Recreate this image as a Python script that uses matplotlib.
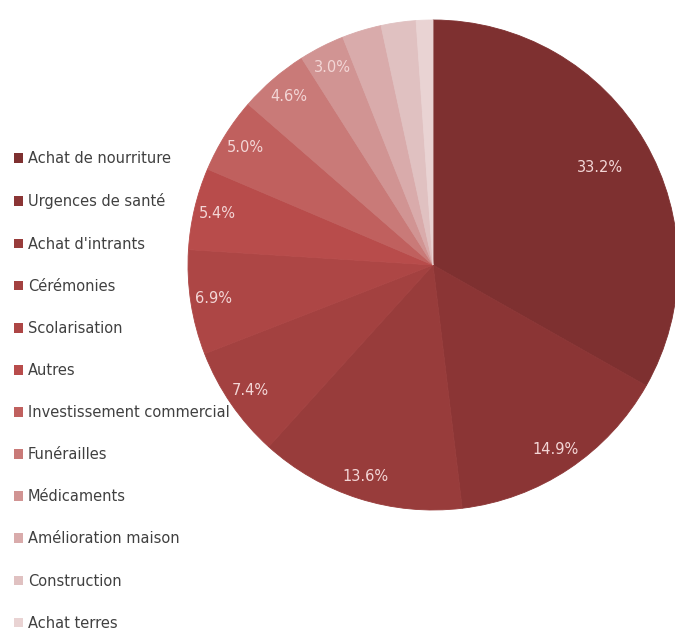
import matplotlib.pyplot as plt
from matplotlib.patches import Patch

# Utilisation des revenus (%)
categories = ["Achat de nourriture", "Urgences de santé", "Achat d'intrants", "Cérémonies",
              "Scolarisation", "Autres", "Investissement commercial", "Funérailles",
              "Médicaments", "Amélioration maison", "Construction", "Achat terres"]
values = [33.2, 14.9, 13.6, 7.4, 6.9, 5.4, 5.0, 4.6, 3.0, 2.6, 2.3, 1.1]
colors = ["#7e3030", "#8b3535", "#983c3b", "#a34140", "#ad4645", "#b84c4b",
          "#c0605e", "#c97a78", "#d19493", "#d9abab", "#e0c1c1", "#e9d3d3"]

fig = plt.figure(figsize=(6.75, 6.33), dpi=100)
ax = fig.add_axes([188 / 675, 1 - 510 / 633, 490 / 675, 490 / 633])


def fmt(p):
    return f"{p:.1f}%" if p >= 2.95 else ""


wedges, texts, autotexts = ax.pie(values, colors=colors, startangle=90, counterclock=False,
                                  autopct=fmt, pctdistance=0.905, radius=1,
                                  textprops=dict(color="#f3d6d6", fontsize=10.5))
# no visible seams between slices
for w in wedges:
    w.set_edgecolor(w.get_facecolor())
    w.set_linewidth(0.6)

# the big slice keeps its label further in
x, y = autotexts[0].get_position()
autotexts[0].set_position((x * 0.79 / 0.905, y * 0.79 / 0.905))

ax.set_xlim(-1, 1)
ax.set_ylim(-1, 1)
ax.set_aspect("equal")

handles = [Patch(facecolor=c, edgecolor="none") for c in colors]
fig.legend(handles, categories, loc="upper left", bbox_to_anchor=(0.02, 0.761),
           frameon=False, fontsize=10.5, labelcolor="#404040",
           handlelength=0.65, handleheight=0.65, handletextpad=0.35,
           labelspacing=1.86, borderpad=0, borderaxespad=0)

fig.savefig("out.png", dpi=100)
